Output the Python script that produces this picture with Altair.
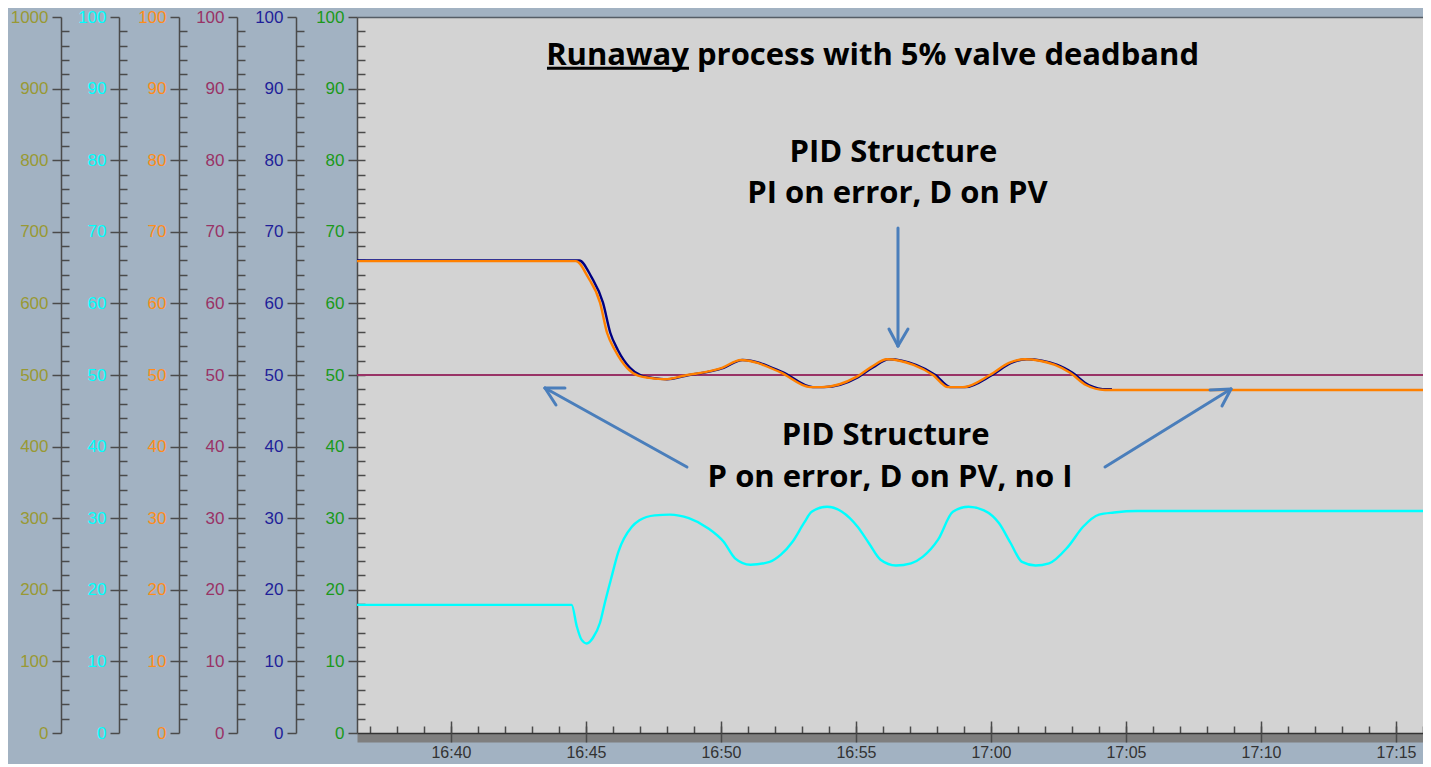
import altair as alt
import pandas as pd

# ---------------- data (time = minutes after 16:00) ----------------
T_MIN, T_MAX = 36.52, 76.0

sp_time = [36.52, 76.0]
sp_value = [50.0, 50.0]

orange_time = [36.52, 44.63, 45.07, 45.52, 45.78, 46.07, 46.52, 46.93, 47.35, 47.93,
               48.63, 50.04, 50.74, 52.19, 53.30, 53.74, 55.00, 55.56, 56.15, 57.13,
               57.85, 58.41, 58.96, 59.96, 60.67, 61.24, 62.37, 62.93, 63.52, 64.22, 76.0]
orange_value = [65.9, 65.9, 63.7, 60.1, 55.9, 53.5, 51.0, 49.9, 49.6, 49.4,
                49.9, 51.0, 52.1, 50.4, 48.3, 48.3, 49.7, 51.1, 52.2, 51.4,
                50.0, 48.3, 48.3, 50.0, 51.7, 52.2, 51.4, 50.3, 48.6, 47.9, 47.9]

navy_time = [36.52, 44.75, 45.20, 45.63, 45.90, 46.18, 46.63, 47.05, 47.45, 48.00,
             48.70, 50.10, 50.80, 52.28, 53.40, 53.82, 55.08, 55.64, 56.22, 57.22,
             57.94, 58.50, 59.04, 60.04, 60.75, 61.32, 62.46, 63.02, 63.62, 64.30, 64.48]
navy_value = [66.0, 66.0, 63.7, 60.1, 55.9, 53.5, 51.0, 49.9, 49.6, 49.4,
              49.9, 51.0, 52.1, 50.4, 48.3, 48.3, 49.7, 51.1, 52.2, 51.4,
              50.0, 48.3, 48.3, 50.0, 51.7, 52.2, 51.4, 50.3, 48.6, 48.0, 48.0]

cyan_time = [36.52, 44.47, 44.66, 44.84, 45.03, 45.26, 45.52, 45.70, 45.92, 46.20,
             46.70, 46.98, 47.55, 48.11, 48.81, 49.52, 50.10, 50.52, 51.09, 51.80,
             52.22, 52.65, 53.07, 53.36, 53.93, 54.48, 55.06, 55.48, 55.91, 56.48,
             57.04, 57.47, 58.04, 58.59, 59.17, 59.74, 60.30, 60.73, 61.15, 61.65,
             62.15, 62.85, 63.41, 64.00, 64.56, 65.41, 76.0]
cyan_value = [17.9, 17.9, 14.9, 13.0, 12.5, 13.3, 15.4, 18.2, 21.4, 25.3,
              28.8, 29.7, 30.4, 30.5, 30.0, 28.6, 26.7, 24.4, 23.5, 23.9,
              24.9, 26.7, 29.3, 30.9, 31.6, 30.9, 28.8, 26.5, 24.2, 23.4,
              23.7, 24.6, 27.0, 30.9, 31.6, 31.1, 29.3, 26.5, 23.9, 23.4,
              23.7, 26.0, 28.8, 30.5, 30.8, 31.0, 31.0]

# axis scales (left to right) and tick labels
axis_names = ["olive", "cyan", "orange", "maroon", "navy", "green"]
axis_colors = ["#999933", "#00ffff", "#ff8c1a", "#993366", "#1f1f99", "#1a991a"]
axis_max = [1000, 100, 100, 100, 100, 100]
axis_offsets = [296, 238, 178, 120, 61, 0]

time_ticks = [40, 45, 50, 55, 60, 65, 70, 75]
time_minor = list(range(37, 77))

# annotations (in data units: minutes, value on 0-100 scale)
text_str = ["Runaway", "process with 5% valve deadband",
            "PID Structure", "PI on error, D on PV",
            "PID Structure", "P on error, D on PV, no I"]
text_t = [48.815, 49.111, 56.389, 56.537, 56.10, 56.26]
text_v = [93.30, 93.30, 79.79, 73.98, 40.22, 34.36]
text_align = ["right", "left", "center", "center", "center", "center"]

underline_t = [43.556]
underline_t2 = [48.815]
underline_v = [92.85]

arrow_t = [56.556, 56.222, 56.926, 48.741, 44.222, 43.889, 64.222, 68.111, 68.556]
arrow_v = [70.53, 56.42, 56.42, 37.15, 48.18, 45.81, 37.15, 47.91, 45.67]
arrow_t2 = [56.556, 56.556, 56.556, 43.481, 43.481, 43.481, 68.889, 68.889, 68.889]
arrow_v2 = [54.05, 54.05, 54.05, 48.18, 48.18, 48.18, 48.04, 48.04, 48.04]

# ---------------- layout ----------------
W, H = 1066, 716
AX = "#4a4a4a"
LABEL_FONT = "Liberation Sans"


def xs():
    return alt.Scale(domain=[T_MIN, T_MAX], nice=False, zero=False)


def ys(top=100):
    return alt.Scale(domain=[0, top], nice=False, zero=False)


dummy = pd.DataFrame({"t": [T_MIN], "v": [0]})


def axis_layer(ytop, yaxis, xaxis=None):
    return alt.Chart(dummy).mark_point(opacity=0, size=1).encode(
        x=alt.X("t:Q", scale=xs(), axis=xaxis),
        y=alt.Y("v:Q", scale=ys(ytop), axis=yaxis),
    )


x_axes = [
    # grey band under the time axis
    alt.Axis(orient="bottom", offset=4.5, domainWidth=9, domainColor="#7f7f7f",
             ticks=False, labels=False, grid=False, title=None),
    # top border of the plot
    alt.Axis(orient="top", offset=0, domainWidth=1.5, domainColor="#555d66",
             ticks=False, labels=False, grid=False, title=None),
    # minute ticks pointing up
    alt.Axis(orient="top", offset=-H, values=time_minor, tickSize=7, tickWidth=1.5,
             tickColor=AX, domainColor="#333333", domainWidth=1.5, labels=False,
             grid=False, title=None),
    # 5-minute ticks pointing up
    alt.Axis(orient="top", offset=-H, values=time_ticks, tickSize=12, tickWidth=1.5,
             tickColor=AX, domain=False, labels=False, grid=False, title=None),
    # 5-minute ticks pointing down + labels
    alt.Axis(orient="bottom", offset=0, values=time_ticks, tickSize=9, tickWidth=1.5,
             tickColor=AX, domain=False, grid=False, title=None,
             labelExpr="(16 + floor(datum.value / 60)) + ':' + (datum.value % 60 < 10 ? '0' : '') + (datum.value % 60)",
             labelFont=LABEL_FONT, labelFontSize=16, labelColor="#333333",
             labelPadding=2, labelFlush=False, labelOverlap=False),
]

layers = []
xi = 0
for name, col, top, off in zip(axis_names, axis_colors, axis_max, axis_offsets):
    major_vals = [top * k / 10 for k in range(11)]
    minor_vals = [top * k / 50 for k in range(1, 50)]
    major = alt.Axis(orient="left", offset=off, values=major_vals, tickSize=9, tickWidth=1.5,
                     tickColor=AX, domainColor=AX, domainWidth=1.5, labelColor=col,
                     labelFont=LABEL_FONT, labelFontSize=17, labelPadding=4,
                     labelFlush=False, labelOverlap=False, grid=False, title=None,
                     format="d")
    minor = alt.Axis(orient="right", offset=-(W + off), values=minor_vals, tickSize=8,
                     tickWidth=1.5, tickColor=AX, domain=False, labels=False,
                     grid=False, title=None)
    xa = x_axes[xi] if xi < len(x_axes) else None
    xi += 1
    layers.append(axis_layer(top, major, xa))
    xa = x_axes[xi] if xi < len(x_axes) else None
    xi += 1
    layers.append(axis_layer(top, minor, xa))


def line_layer(t, v, color, width):
    df = pd.DataFrame({"t": t, "v": v})
    return alt.Chart(df).mark_line(color=color, strokeWidth=width, interpolate="monotone").encode(
        x=alt.X("t:Q", scale=xs(), axis=None),
        y=alt.Y("v:Q", scale=ys(), axis=None),
    )


layers.append(line_layer(sp_time, sp_value, "#993366", 1.8))
layers.append(line_layer(navy_time, navy_value, "#000080", 2.4))
layers.append(line_layer(orange_time, orange_value, "#ff8000", 2.4))
layers.append(line_layer(cyan_time, cyan_value, "#00ffff", 2.4))

# arrows
arrows = pd.DataFrame({"t": arrow_t, "v": arrow_v, "t2": arrow_t2, "v2": arrow_v2})
layers.append(alt.Chart(arrows).mark_rule(color="#4a7ebb", strokeWidth=3, strokeCap="round").encode(
    x=alt.X("t:Q", scale=xs(), axis=None), x2="t2:Q",
    y=alt.Y("v:Q", scale=ys(), axis=None), y2="v2:Q",
))

# underline of "Runaway"
ul = pd.DataFrame({"t": underline_t, "t2": underline_t2, "v": underline_v})
layers.append(alt.Chart(ul).mark_rule(color="#000000", strokeWidth=3).encode(
    x=alt.X("t:Q", scale=xs(), axis=None), x2="t2:Q",
    y=alt.Y("v:Q", scale=ys(), axis=None),
))

# texts
for s, t, v, a in zip(text_str, text_t, text_v, text_align):
    df = pd.DataFrame({"t": [t], "v": [v], "s": [s]})
    layers.append(alt.Chart(df).mark_text(
        font="Open Sans", fontWeight="bold", fontSize=31, color="#000000",
        align=a, baseline="alphabetic").encode(
        x=alt.X("t:Q", scale=xs(), axis=None),
        y=alt.Y("v:Q", scale=ys(), axis=None),
        text="s:N",
    ))

chart = alt.layer(*layers).resolve_scale(x="independent", y="independent").properties(
    width=W, height=H,
    autosize=alt.AutoSizeParams(type="none"),
    padding={"left": 349, "top": 9, "right": 0, "bottom": 31},
).configure(background="#a2b2c2").configure_view(fill="#d3d3d3", stroke="transparent")

chart.save("out.html", embed_options={"renderer": "svg", "actions": False})
